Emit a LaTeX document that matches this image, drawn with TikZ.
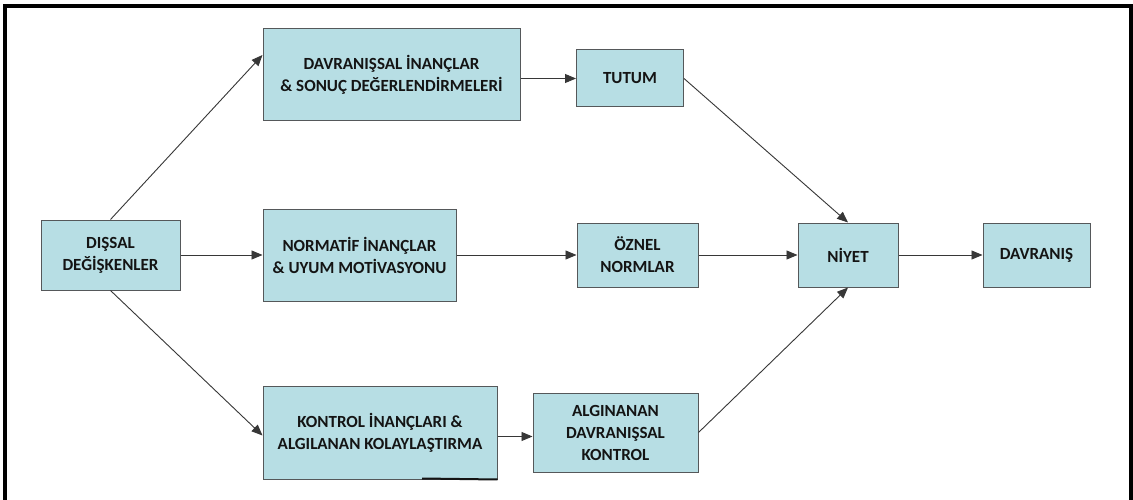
\documentclass[tikz,border=0pt]{standalone}
\usepackage{fontspec}
\setmainfont{Carlito}
\usetikzlibrary{arrows.meta}
\definecolor{boxfill}{RGB}{183,222,228}
\definecolor{boxline}{RGB}{85,88,90}
\definecolor{ink}{RGB}{20,20,20}
\begin{document}
\begin{tikzpicture}[x=1pt,y=-1pt,
  box/.style={draw=boxline,line width=1pt,fill=boxfill,align=center,
    font=\bfseries\fontsize{17}{22}\selectfont,text=ink,inner sep=0pt},
  link/.style={draw=ink!85,line width=0.9pt,-{Triangle[length=11pt,width=9pt]}},
  frame/.style={line width=4pt,draw=black}]
\useasboundingbox (0,0) rectangle (1133,500);
\fill[white] (0,0) rectangle (1133,500);
% outer frame (open at the bottom)
\draw[frame] (5,500) -- (5,6.5) -- (1131,6.5) -- (1131,500);

% boxes
\node[box,minimum width=139pt,minimum height=70pt] (ext) at (110.5,255) {DIŞSAL\\DEĞİŞKENLER};
\node[box,minimum width=257pt,minimum height=92pt] (beh) at (391.5,75) {DAVRANIŞSAL İNANÇLAR\\\& SONUÇ DEĞERLENDİRMELERİ};
\node[box,minimum width=107pt,minimum height=57pt] (tut) at (630,78.5) {TUTUM};
\node[box,minimum width=193pt,minimum height=92pt] (norm) at (359.5,255) {NORMATİF İNANÇLAR\\\& UYUM MOTİVASYONU};
\node[box,minimum width=121pt,minimum height=64pt] (ozn) at (637.5,255) {ÖZNEL\\NORMLAR};
\node[box,minimum width=100pt,minimum height=64pt] (niy) at (848,255) {NİYET};
\node[box,minimum width=107pt,minimum height=64pt] (dav) at (1036.5,255) {DAVRANIŞ};
\node[box,minimum width=234pt,minimum height=93pt] (kon) at (380,432.5) {KONTROL İNANÇLARI \&\\ALGILANAN KOLAYLAŞTIRMA};
\node[box,minimum width=165pt,minimum height=79pt] (alg) at (615.5,432.5) {ALGINANAN\\DAVRANIŞSAL\\KONTROL};

% heavier stroke along the lower right edge of the control box
\coordinate (konA) at (422,478.5);
\draw[line width=2pt,ink] (konA) -- (kon.south east);

% connectors
\draw[link] (ext.north) -- ([yshift=20pt]beh.west);
\draw[link] (ext.east) -- (norm.west);
\draw[link] (ext.south) -- ([yshift=-3pt]kon.west);
\draw[link] (beh.east |- tut.west) -- (tut.west);
\draw[link] (tut.east) -- (niy.north);
\draw[link] (norm.east) -- (ozn.west);
\draw[link] (ozn.east) -- (niy.west);
\draw[link] (niy.east) -- (dav.west);
\draw[link] ([yshift=-4pt]kon.east) -- ([yshift=-4pt]alg.west);
\draw[link] (alg.east) -- (niy.south);
\end{tikzpicture}
\end{document}
